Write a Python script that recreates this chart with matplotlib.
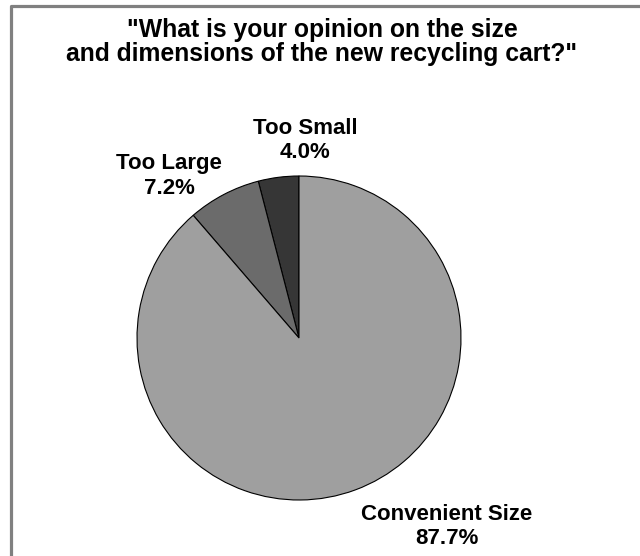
import math

import matplotlib
matplotlib.use("Agg")
import matplotlib.pyplot as plt
from matplotlib.lines import Line2D

plt.rcParams['font.family'] = ['Liberation Sans', 'DejaVu Sans']

categories = ["Too Small", "Too Large", "Convenient Size"]
values = [4.0, 7.2, 87.7]
colors = ["#363636", "#6b6b6b", "#9f9f9f"]
# label placement (angle in degrees, distance in radii)
label_pos = [(88.3, 1.22), (128.7, 1.28), (-51.9, 1.48)]

fig = plt.figure(figsize=(6.4, 5.56), dpi=100)
ax = fig.add_axes([0, 0, 1, 1])

wedges, texts = ax.pie(values, colors=colors, startangle=90, counterclock=True,
                       labels=[f"{c}\n{v:.1f}%" for c, v in zip(categories, values)],
                       wedgeprops=dict(edgecolor="black", linewidth=0.8),
                       textprops=dict(fontsize=16, fontweight="bold", ha="center", va="center",
                                      linespacing=1.22))

for t, (ang, r) in zip(texts, label_pos):
    a = math.radians(ang)
    t.set_position((r * math.cos(a), r * math.sin(a)))
    t.set_horizontalalignment("center")
    t.set_verticalalignment("center")

R = 162.0
cx, cy = 299.0, 556 - 338.0
ax.set_aspect("auto")
ax.set_xlim(-cx / R, (640 - cx) / R)
ax.set_ylim(-cy / R, (556 - cy) / R)
ax.axis("off")

fig.text(322 / 640, 1 - 42 / 556,
         "\"What is your opinion on the size\nand dimensions of the new recycling cart?\"",
         ha="center", va="center", fontsize=17.8, fontweight="bold", linespacing=1.05)

# gray frame on top and left
fig.add_artist(Line2D([10.5 / 640, 10.5 / 640, 1], [0, 1 - 5.5 / 556, 1 - 5.5 / 556],
                      color="#808080", linewidth=2.3, transform=fig.transFigure))

fig.savefig("out.png", dpi=100)
